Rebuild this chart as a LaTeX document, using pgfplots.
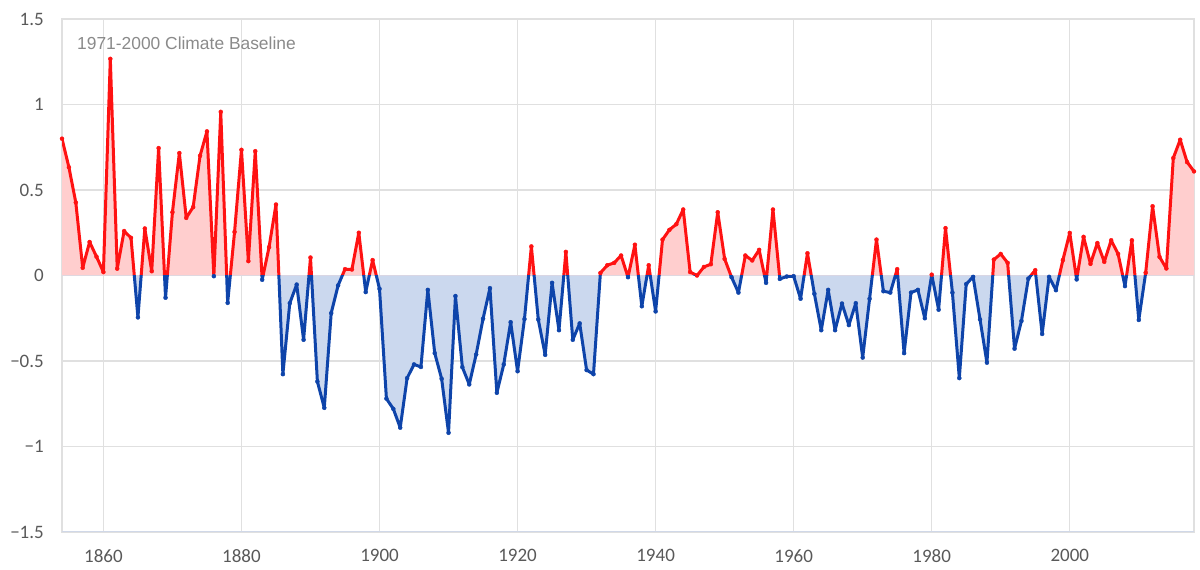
\documentclass[border=0pt]{standalone}
\usepackage{pgfplots}
\pgfplotsset{compat=1.18}
\usepackage{pgfplotstable}
\usepackage{fontspec}
\setmainfont{Liberation Sans}
\newfontfamily\tickfont{Carlito}
\definecolor{redline}{RGB}{255,18,18}
\definecolor{blueline}{RGB}{14,68,170}
\definecolor{redfill}{RGB}{255,206,206}
\definecolor{bluefill}{RGB}{203,216,238}
\definecolor{gridgray}{RGB}{224,224,224}
\definecolor{ticktext}{RGB}{89,89,89}
\definecolor{titlegray}{RGB}{138,138,138}
\definecolor{bottomline}{RGB}{208,216,232}

\pgfplotstableread{
year v
1854 0.80
1855 0.633
1856 0.427
1857 0.045
1858 0.196
1859 0.11
1860 0.02
1861 1.267
1862 0.04
1863 0.26
1864 0.22
1865 -0.245
1866 0.275
1867 0.025
1868 0.745
1869 -0.13
1870 0.37
1871 0.716
1872 0.337
1873 0.40
1874 0.70
1875 0.843
1876 -0.004
1877 0.957
1878 -0.16
1879 0.255
1880 0.735
1881 0.084
1882 0.727
1883 -0.025
1884 0.166
1885 0.415
1886 -0.577
1887 -0.162
1888 -0.053
1889 -0.376
1890 0.105
1891 -0.62
1892 -0.774
1893 -0.22
1894 -0.058
1895 0.037
1896 0.035
1897 0.25
1898 -0.097
1899 0.09
1900 -0.078
1901 -0.72
1902 -0.78
1903 -0.89
1904 -0.60
1905 -0.52
1906 -0.535
1907 -0.084
1908 -0.454
1909 -0.604
1910 -0.92
1911 -0.12
1912 -0.536
1913 -0.637
1914 -0.462
1915 -0.253
1916 -0.074
1917 -0.686
1918 -0.52
1919 -0.273
1920 -0.56
1921 -0.255
1922 0.17
1923 -0.257
1924 -0.464
1925 -0.043
1926 -0.32
1927 0.138
1928 -0.376
1929 -0.28
1930 -0.553
1931 -0.577
1932 0.015
1933 0.06
1934 0.074
1935 0.117
1936 -0.01
1937 0.18
1938 -0.18
1939 0.06
1940 -0.21
1941 0.21
1942 0.267
1943 0.30
1944 0.386
1945 0.02
1946 0.0
1947 0.05
1948 0.066
1949 0.37
1950 0.097
1951 -0.01
1952 -0.10
1953 0.117
1954 0.088
1955 0.15
1956 -0.043
1957 0.386
1958 -0.02
1959 -0.006
1960 -0.004
1961 -0.136
1962 0.13
1963 -0.107
1964 -0.32
1965 -0.084
1966 -0.32
1967 -0.164
1968 -0.29
1969 -0.162
1970 -0.48
1971 -0.136
1972 0.21
1973 -0.092
1974 -0.10
1975 0.037
1976 -0.454
1977 -0.10
1978 -0.084
1979 -0.25
1980 0.005
1981 -0.2
1982 0.277
1983 -0.10
1984 -0.60
1985 -0.05
1986 -0.008
1987 -0.257
1988 -0.51
1989 0.093
1990 0.126
1991 0.074
1992 -0.428
1993 -0.266
1994 -0.018
1995 0.031
1996 -0.342
1997 -0.008
1998 -0.086
1999 0.09
2000 0.249
2001 -0.023
2002 0.226
2003 0.068
2004 0.19
2005 0.08
2006 0.206
2007 0.126
2008 -0.062
2009 0.206
2010 -0.26
2011 0.016
2012 0.405
2013 0.109
2014 0.041
2015 0.687
2016 0.794
2017 0.663
2018 0.609
}\data

\begin{document}
\begin{tikzpicture}
\useasboundingbox (0,0) rectangle (1200bp,570bp);
\begin{axis}[
  at={(62bp,38bp)}, anchor=south west,
  width=1132bp, height=513bp, scale only axis,
  xmin=1854, xmax=2018, ymin=-1.5, ymax=1.5,
  xtick={1860,1880,1900,1920,1940,1960,1980,2000},
  xticklabels={1860,1880,1900,1920,1940,1960,1980,2000},
  ytick={-1.5,-1,-0.5,0,0.5,1,1.5},
  yticklabels={−1.5,−1,−0.5,0,0.5,1,1.5},
  major tick length=0pt,
  grid=major,
  grid style={draw=gridgray, line width=1.2bp},
  axis line style={draw=gridgray, line width=1.2bp},
  ticklabel style={font=\tickfont\fontsize{19bp}{19bp}\selectfont, text=ticktext, inner sep=0pt},
  yticklabel style={anchor=east, xshift=-18bp},
  xticklabel style={anchor=north, yshift=-17bp},
]
\begin{scope}
\clip (axis cs:1840,0) rectangle (axis cs:2030,2);
\addplot[draw=none, fill=redfill] table[x=year,y=v]{\data} \closedcycle;
\addplot[redline, line width=3bp, line join=round, no markers] table[x=year,y=v]{\data};
\end{scope}
\begin{scope}
\clip (axis cs:1840,-2) rectangle (axis cs:2030,0);
\addplot[draw=none, fill=bluefill] table[x=year,y=v]{\data} \closedcycle;
\addplot[blueline, line width=3bp, line join=round, no markers] table[x=year,y=v]{\data};
\end{scope}
\addplot[only marks, mark=*, mark size=2bp, mark options={draw=redline, fill=redline, line width=0.4bp}, restrict y to domain=0:2] table[x=year,y=v]{\data};
\addplot[only marks, mark=*, mark size=2bp, mark options={draw=blueline, fill=blueline, line width=0.4bp}, restrict y to domain=-2:-0.0001] table[x=year,y=v]{\data};
\draw[bottomline, line width=1.5bp] (axis cs:1854,-1.5) -- (axis cs:2018,-1.5);
\end{axis}
\node[anchor=base west, text=titlegray, font=\fontsize{17.4bp}{18bp}\selectfont, inner sep=0pt] at (77bp,520bp) {1971-2000 Climate Baseline};
\end{tikzpicture}
\end{document}
